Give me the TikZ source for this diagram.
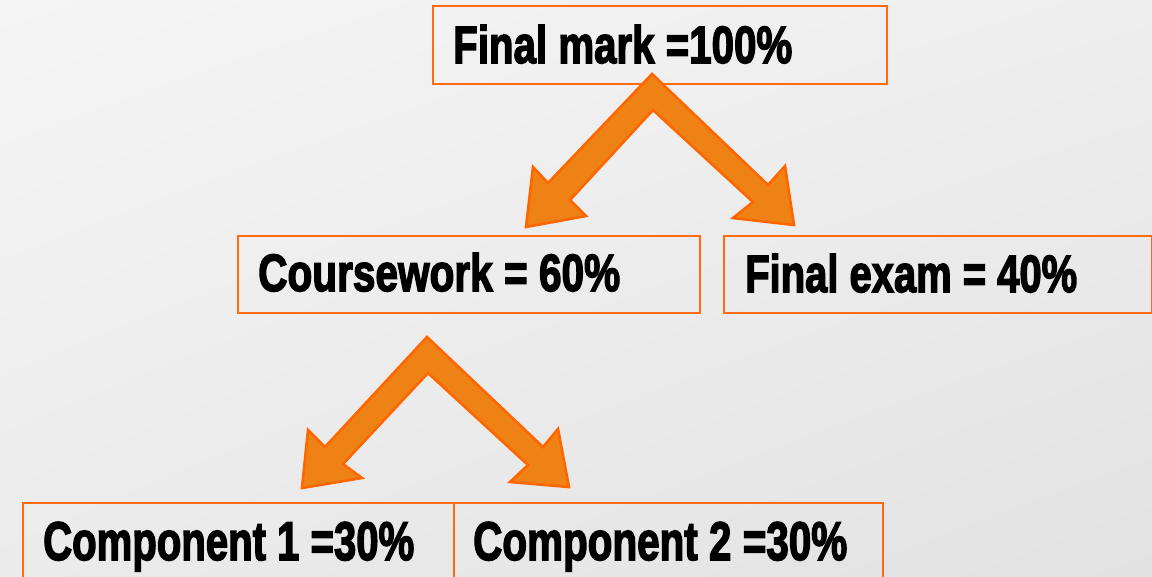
\documentclass[tikz,border=0pt]{standalone}
\usepackage{fontspec}
\setmainfont{Liberation Sans}
\newfontfamily\heavyfont{Liberation Sans}[BoldFeatures={FakeBold=3}]
\usepackage{graphicx}
\usetikzlibrary{shadings}
\definecolor{boxorange}{HTML}{FF6A13}
\definecolor{arrowfill}{HTML}{EE8214}
\definecolor{arrowline}{HTML}{FF6600}
\definecolor{bgul}{HTML}{F5F5F5}
\definecolor{bgur}{HTML}{EEEEEE}
\definecolor{bgll}{HTML}{EBEBEB}
\definecolor{bglr}{HTML}{E2E2E2}
\tikzset{
  markbox/.style={draw=boxorange, line width=1.6bp, rectangle, anchor=north west, inner sep=0pt},
  marktext/.style={anchor=base west, inner sep=0pt, text=black},
  blockarrow/.style={fill=arrowfill, draw=arrowline, line width=2.6bp, line join=miter}
}
\newcommand{\fittext}[2]{\resizebox{#1bp}{38bp}{\heavyfont\bfseries #2}}
\begin{document}
\begin{tikzpicture}[x=1bp,y=-1bp]
\useasboundingbox (0,0) rectangle (1152,577);
\shade[upper left=bgul, upper right=bgur, lower left=bgll, lower right=bglr] (0,0) rectangle (1152,577);
\begin{scope}
\clip (0,0) rectangle (1152,577);
% boxes
\node[markbox, minimum width=454bp, minimum height=78bp] (final) at (432,5) {};
\node[markbox, minimum width=462bp, minimum height=77bp] (course) at (237,235) {};
\node[markbox, minimum width=428bp, minimum height=77bp] (exam) at (723,235) {};
\node[markbox, minimum width=431bp, minimum height=80bp] (comp1) at (22,502) {};
\node[markbox, minimum width=429bp, minimum height=80bp] (comp2) at (453,502) {};
% texts
\node[marktext] (tfinal) at (453,63) {\fittext{339}{Final mark =100\%}};
\node[marktext] (tcourse) at (258,291) {\fittext{362}{Coursework = 60\%}};
\node[marktext] (texam) at (745,292) {\fittext{332}{Final exam = 40\%}};
\node[marktext] (tcomp1) at (43,560) {\fittext{371}{Component 1 =30\%}};
\node[marktext] (tcomp2) at (473,560) {\fittext{374}{Component 2 =30\%}};
% block arrows
\draw[blockarrow] (652,74) -- (548,183) -- (533,167) -- (526,227) -- (586,216) -- (570,200)
  -- (653,110) -- (753,202) -- (733,218) -- (794,225) -- (785,166) -- (768,185) -- cycle;
\draw[blockarrow] (427,337) -- (325,447) -- (308,430) -- (302,488) -- (362,478) -- (343,464)
  -- (428,373) -- (528,465) -- (510,482) -- (569,487) -- (558,429) -- (543,447) -- cycle;
\end{scope}
\end{tikzpicture}
\end{document}
